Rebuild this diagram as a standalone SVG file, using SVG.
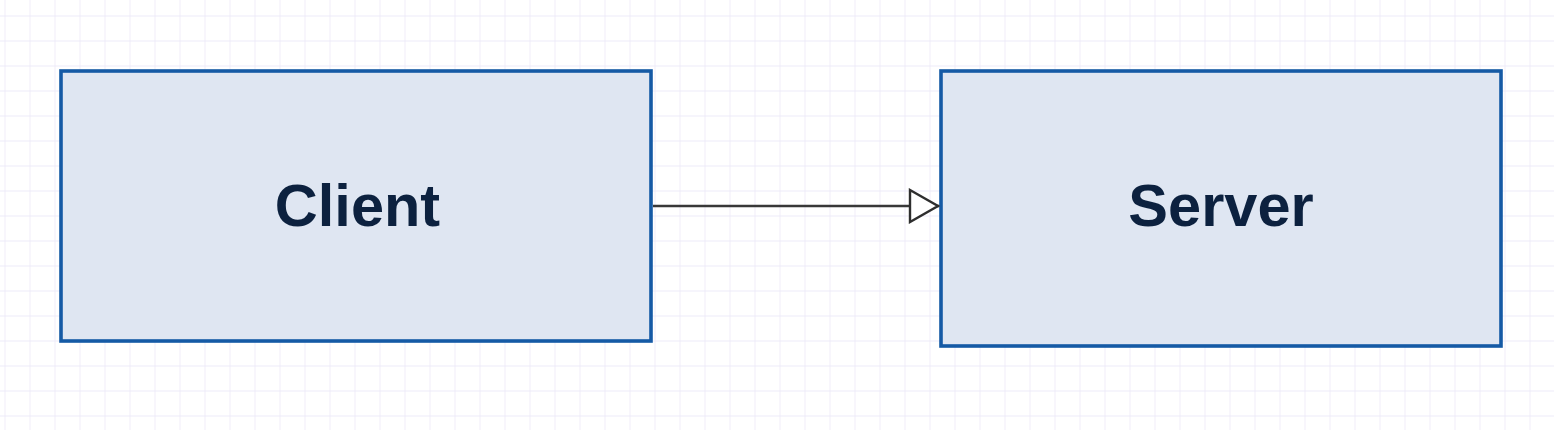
<svg xmlns="http://www.w3.org/2000/svg" width="1554" height="430" viewBox="0 0 1554 430">
  <defs>
    <pattern id="grid" x="29.5" y="15.5" width="25" height="25" patternUnits="userSpaceOnUse">
      <path d="M0 0H25M0 0V25" fill="none" stroke="#e8e5f8" stroke-width="1.3"/>
    </pattern>
    <marker id="tri" viewBox="0 0 32 36" refX="31" refY="18" markerWidth="32" markerHeight="36" markerUnits="userSpaceOnUse" orient="auto">
      <path d="M2 2L30 18L2 34Z" fill="#ffffff" stroke="#2e2e2e" stroke-width="2.4" stroke-linejoin="miter"/>
    </marker>
  </defs>
  <style>
    .node rect { fill: #dfe6f2; stroke: #155aa5; stroke-width: 3.6; }
    .node text { font-family: "Liberation Sans", Arial, sans-serif; font-weight: bold; font-size: 59.5px; fill: #0c213f; text-anchor: middle; }
    .edge { fill: none; stroke: #383838; stroke-width: 2.6; }
  </style>
  <rect width="1554" height="430" fill="#ffffff"/>
  <rect width="1554" height="430" fill="url(#grid)"/>
  <g id="client" class="node">
    <rect x="61" y="71" width="590" height="270"/>
    <text x="357.5" y="226">Client</text>
  </g>
  <g id="server" class="node">
    <rect x="941" y="71" width="560" height="275"/>
    <text x="1221" y="226">Server</text>
  </g>
  <g id="connectors">
    <path class="edge" d="M653 206H939" marker-end="url(#tri)"/>
  </g>
</svg>
